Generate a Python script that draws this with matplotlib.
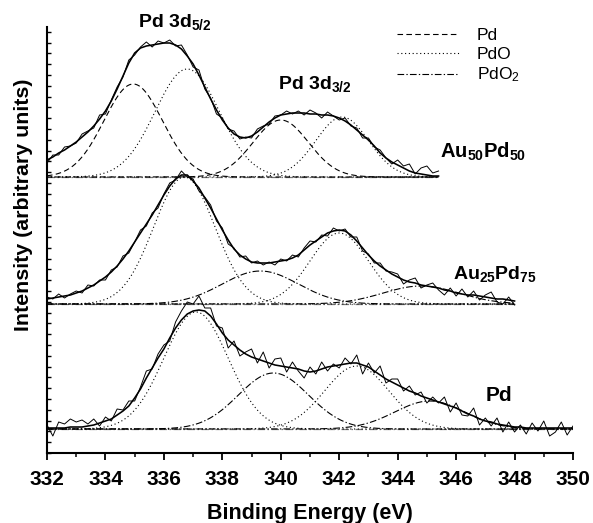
import numpy as np
import matplotlib.pyplot as plt
from matplotlib.ticker import MultipleLocator

plt.rcParams['font.family'] = ['Liberation Sans', 'DejaVu Sans']
plt.rcParams['mathtext.fontset'] = 'custom'
plt.rcParams['mathtext.rm'] = 'Liberation Sans'
plt.rcParams['mathtext.bf'] = 'Liberation Sans:bold'
plt.rcParams['mathtext.it'] = 'Liberation Sans:italic'

# --- data (heights in arbitrary units above each spectrum's own baseline) ---
# energy grid step 0.2 eV
top_start, top_end = 332.0, 345.4
mid_start, mid_end = 332.0, 348.0
bot_start, bot_end = 332.0, 350.0

# fitted envelopes
top_fit = [17, 20, 24, 27, 31, 35, 40, 45, 51, 58,
           66, 76, 88, 101, 114, 124, 129, 131, 132, 133,
           134, 134, 132, 128, 121, 113, 102, 90, 78, 67,
           57, 49, 43, 40, 39, 41, 45, 50, 55, 59,
           62, 63, 64, 64, 64, 63, 63, 62, 62, 61,
           59, 56, 52, 47, 42, 37, 31, 24, 19, 15,
           12, 9, 6, 4, 3, 2, 1, 1]
mid_fit = [5, 6, 7, 8, 9, 11, 13, 16, 19, 23,
           27, 32, 38, 45, 53, 62, 71, 80, 89, 99,
           109, 118, 125, 129, 129, 123, 116, 106, 96, 85,
           74, 64, 55, 49, 45, 42, 41, 41, 41, 42,
           43, 44, 46, 49, 54, 59, 63, 67, 71, 73,
           74, 73, 69, 63, 56, 49, 43, 38, 34, 30,
           27, 24, 22, 21, 19, 18, 17, 16, 14, 13,
           11, 10, 9, 9, 8, 7, 6, 5, 5, 4,
           3]
bot_fit = [1, 1, 1, 1, 2, 2, 2, 3, 4, 6,
           8, 10, 14, 18, 23, 31, 40, 51, 61, 71,
           80, 91, 101, 109, 115, 118, 119, 118, 113, 105,
           96, 89, 84, 79, 75, 72, 70, 68, 66, 64,
           63, 62, 61, 60, 58, 57, 58, 60, 62, 63,
           64, 65, 66, 66, 64, 62, 58, 54, 50, 47,
           44, 41, 38, 36, 33, 31, 29, 27, 25, 23,
           21, 18, 15, 13, 10, 8, 7, 5, 4, 3,
           2, 2, 1, 1, 1, 1, 1, 1, 1, 1,
           1]

# deviation of the measured spectra from the fit
top_noise = [-3, 2, -2, 3, 0, -1, 3, 1, -2, 4,
             -3, 1, 2, -1, 3, -2, 1, 4, -2, 3,
             0, 3, -1, 4, 1, -3, 5, -2, 1, -4,
             2, -1, 3, -2, 1, -2, 3, 1, -2, 2,
             0, 3, -1, 2, -2, 4, 1, -3, 3, 0,
             -2, 3, -1, 2, -3, 2, -1, 3, 0, -2,
             5, 2, 7, -1, 6, 9, 3, 5]
mid_noise = [2, -1, 3, -2, 1, 2, -2, 3, -1, 1,
             -3, 2, -1, 3, -2, 0, 3, -2, 2, -3,
             1, 3, -1, 4, -2, 2, -3, 1, 3, -2,
             2, -4, 1, -2, 3, -1, 2, -2, 1, -3,
             2, -1, 3, -2, 2, 4, -1, 2, -3, 3,
             -1, 2, -2, 4, -3, 1, -2, 3, -1, 2,
             3, -4, 2, 5, -3, 1, 4, -2, -5, 3,
             -3, 5, -2, 4, -4, 2, 6, -3, -5, 3,
             -4]
bot_noise = [3, -8, 6, 4, 8, 5, 7, 2, 6, -3,
             4, -2, 6, 1, 5, -3, 2, 7, -1, 4,
             4, -3, 6, 9, 12, 7, 14, 3, 8, -2,
             5, -8, 4, -6, 2, 8, -4, 9, -5, 6,
             8, -5, 6, -2, -7, 5, -3, 7, -4, 2,
             -3, 6, -1, 8, -9, 4, -2, 9, -4, 3,
             6, -3, 5, -2, 4, -5, 3, -1, 7, -6,
             5, -4, -2, 8, -6, 3, -4, 6, -7, 4,
             -5, 2, -6, 5, -3, 7, -8, -4, 6, -7,
             2]

# fitted peaks: (centre eV, height, sigma eV)
top_pd = [(334.95, 93, 1.0), (340.0, 57, 0.95)]
top_pdo = [(336.8, 108, 1.1), (342.1, 60, 0.9)]
mid_pdo = [(336.7, 127, 1.05), (342.0, 71, 1.0)]
mid_pdo2 = [(339.3, 33, 1.3), (344.8, 18, 1.3)]
bot_pdo = [(337.1, 117, 1.1), (342.6, 63, 1.1)]
bot_pdo2 = [(339.75, 56, 1.2), (345.1, 28, 1.2)]

# vertical stacking of the three spectra
offsets = {'top': 276, 'mid': 149, 'bot': 24}

ls_pd = (0, (5, 3))
ls_pdo = (0, (1, 2.4))
ls_pdo2 = (0, (6, 2, 1.2, 2))


def gauss(e, centre, height, sigma):
    return height * np.exp(-(e - centre) ** 2 / (2 * sigma ** 2))


fig = plt.figure(figsize=(5.93, 5.23), dpi=100)
ax = fig.add_axes([47 / 593, 70 / 523, 526 / 593, 426 / 523])

spectra = [
    ('top', top_start, top_end, top_fit, top_noise, [(top_pd, ls_pd), (top_pdo, ls_pdo)]),
    ('mid', mid_start, mid_end, mid_fit, mid_noise, [(mid_pdo, ls_pdo), (mid_pdo2, ls_pdo2)]),
    ('bot', bot_start, bot_end, bot_fit, bot_noise, [(bot_pdo, ls_pdo), (bot_pdo2, ls_pdo2)]),
]

for key, e0, e1, fit, noise, comps in spectra:
    off = offsets[key]
    e = np.linspace(e0, e1, len(fit))
    fine = np.linspace(e0, e1, 400)
    ax.plot([e0, e1], [off, off], color='0.45', lw=0.9, ls=ls_pdo2)
    for peaks, ls in comps:
        for c, h, s in peaks:
            ax.plot(fine, off + gauss(fine, c, h, s), color='k', lw=0.8, ls=ls)
    raw = np.array(fit) + np.array(noise)
    ax.plot(e, off + raw, color='k', lw=0.7)
    ax.plot(e, off + np.array(fit), color='k', lw=1.15)

# legend
ax.plot([], [], color='k', lw=0.8, ls=ls_pd, label='Pd')
ax.plot([], [], color='k', lw=0.8, ls=ls_pdo, label='PdO')
ax.plot([], [], color='k', lw=0.8, ls=ls_pdo2, label='PdO$_2$')
ax.legend(loc='upper left', frameon=False, fontsize=12.5,
          handlelength=3.6, handletextpad=1.0, labelspacing=0.22, borderpad=0)
leg = ax.get_legend()
leg.set_bbox_to_anchor((343.68, 434), transform=ax.transData)

# annotations
ax.text(335.1, 426, r'$\mathbf{Pd\ 3d_{5/2}}$', fontsize=14, ha='left', va='baseline', clip_on=False)
ax.text(339.9, 364, r'$\mathbf{Pd\ 3d_{3/2}}$', fontsize=14, ha='left', va='baseline')
ax.text(345.45, 295, r'$\mathbf{Au_{50}Pd_{50}}$', fontsize=14.5, ha='left', va='baseline')
ax.text(345.9, 174, r'$\mathbf{Au_{25}Pd_{75}}$', fontsize=14, ha='left', va='baseline')
ax.text(347.0, 52, 'Pd', fontsize=15, fontweight='bold', ha='left', va='baseline')

ax.set_xlim(332, 350)
ax.set_ylim(0, 426)
ax.spines['top'].set_visible(False)
ax.spines['right'].set_visible(False)
ax.spines['left'].set_linewidth(1.5)
ax.spines['bottom'].set_linewidth(1.5)

ax.xaxis.set_major_locator(MultipleLocator(2))
ax.xaxis.set_minor_locator(MultipleLocator(1))
ax.tick_params(axis='x', which='major', direction='out', length=5, width=1.3, pad=7,
               labelsize=15)
ax.tick_params(axis='x', which='minor', direction='out', length=3, width=1.1)
for lab in ax.get_xticklabels():
    lab.set_fontweight('bold')

ax.yaxis.set_major_locator(MultipleLocator(10.8))
ax.tick_params(axis='y', which='major', direction='in', length=3, width=1.0, labelleft=False)

ax.set_xlabel('Binding Energy (eV)', fontsize=15.5, fontweight='bold', labelpad=10)
ax.set_ylabel('Intensity (arbitrary units)', fontsize=15.4, fontweight='bold')
ax.yaxis.set_label_coords(-0.027, 0.582)

fig.savefig('out.png', dpi=100)
